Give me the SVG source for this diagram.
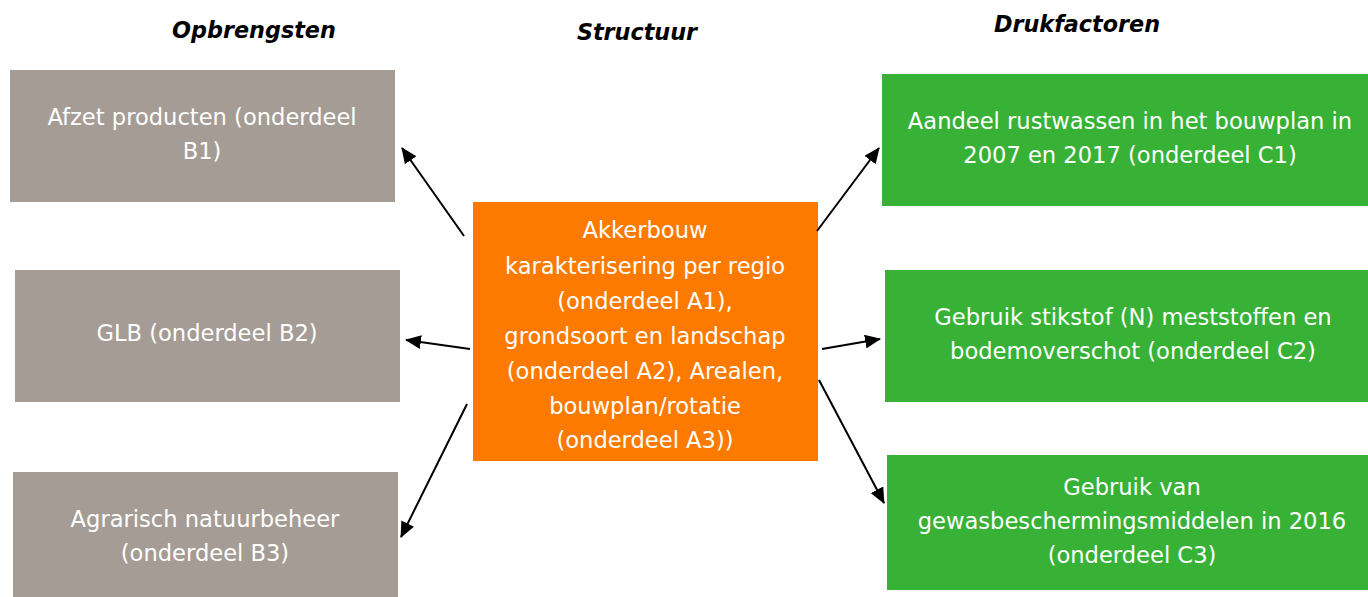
<svg xmlns="http://www.w3.org/2000/svg" width="1368" height="597" viewBox="0 0 1368 597">
<style>
.t{font-family:"DejaVu Sans","Verdana",sans-serif;font-size:22.6px;fill:#ffffff;text-anchor:middle}
.h{font-family:"DejaVu Sans","Verdana",sans-serif;font-size:22.3px;font-weight:bold;font-style:italic;fill:#000;text-anchor:middle}
.g{fill:#a59c95}
.o{fill:#fd7a00}
.c{fill:#37b236}
.a{stroke:#000;stroke-width:2;fill:none;marker-end:url(#ah)}
</style>
<defs>
<marker id="ah" markerUnits="userSpaceOnUse" markerWidth="16" markerHeight="14" refX="15" refY="7" orient="auto">
<path d="M0,0 L16,7 L0,14 z" fill="#000"/>
</marker>
</defs>
<rect width="1368" height="597" fill="#fff"/>
<g id="titles">
<text class="h" x="254" y="38">Opbrengsten</text>
<text class="h" x="637" y="40">Structuur</text>
<text class="h" x="1077" y="32">Drukfactoren</text>
</g>
<g id="B1"><rect class="g" x="10" y="70" width="385" height="132"/>
<text class="t" x="202" y="125">Afzet producten (onderdeel</text><text class="t" x="202" y="159">B1)</text></g>
<g id="B2"><rect class="g" x="15" y="270" width="385" height="132"/>
<text class="t" x="207" y="341">GLB (onderdeel B2)</text></g>
<g id="B3"><rect class="g" x="13" y="472" width="385" height="125"/>
<text class="t" x="205" y="527">Agrarisch natuurbeheer</text><text class="t" x="205" y="561">(onderdeel B3)</text></g>
<g id="A"><rect class="o" x="473" y="202" width="345" height="259"/>
<text class="t" x="645" y="238">Akkerbouw</text>
<text class="t" x="645" y="274">karakterisering per regio</text>
<text class="t" x="645" y="309">(onderdeel A1),</text>
<text class="t" x="645" y="344">grondsoort en landschap</text>
<text class="t" x="645" y="379">(onderdeel A2), Arealen,</text>
<text class="t" x="645" y="414">bouwplan/rotatie</text>
<text class="t" x="645" y="448">(onderdeel A3))</text></g>
<g id="C1"><rect class="c" x="882" y="74" width="486" height="132"/>
<text class="t" x="1130" y="129">Aandeel rustwassen in het bouwplan in</text><text class="t" x="1130" y="163">2007 en 2017 (onderdeel C1)</text></g>
<g id="C2"><rect class="c" x="885" y="270" width="483" height="132"/>
<text class="t" x="1133" y="325">Gebruik stikstof (N) meststoffen en</text><text class="t" x="1133" y="359">bodemoverschot (onderdeel C2)</text></g>
<g id="C3"><rect class="c" x="887" y="455" width="481" height="135"/>
<text class="t" x="1132" y="495">Gebruik van</text><text class="t" x="1132" y="529">gewasbeschermingsmiddelen in 2016</text><text class="t" x="1132" y="563">(onderdeel C3)</text></g>
<g id="connectors">
<line class="a" x1="464" y1="236" x2="402" y2="148"/>
<line class="a" x1="470" y1="349" x2="406" y2="340"/>
<line class="a" x1="467" y1="404" x2="401" y2="537"/>
<line class="a" x1="817" y1="231" x2="879" y2="148"/>
<line class="a" x1="822" y1="349" x2="880" y2="339"/>
<line class="a" x1="819" y1="380" x2="884" y2="503"/>
</g>
</svg>
